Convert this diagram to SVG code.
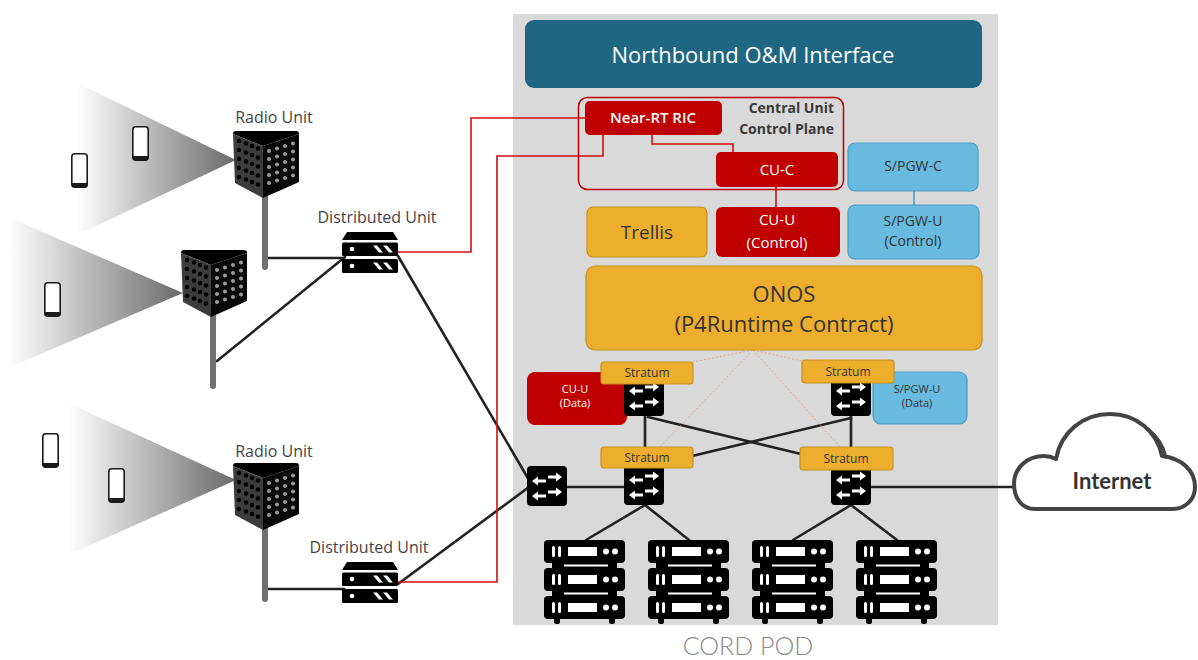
<svg xmlns="http://www.w3.org/2000/svg" xmlns:xlink="http://www.w3.org/1999/xlink" width="1198" height="660" viewBox="0 0 1198 660">
  <style>
    .cap { font-family: "Open Sans", sans-serif; font-size: 16px; fill: #454545; text-anchor: middle; }
    .wt { fill: #ffffff; text-anchor: middle; font-family: "Open Sans", sans-serif; }
    .dk { fill: #333333; text-anchor: middle; font-family: "Open Sans", sans-serif; }
    .red { fill: #c00000; }
    .org { fill: #edae2e; stroke: #c79222; stroke-width: 1.2; }
    .blu { fill: #68badf; stroke: #4b9cc7; stroke-width: 1.2; }
    .link { stroke: #222222; stroke-width: 2.6; fill: none; stroke-linecap: round; }
    .rlink { stroke: #d01010; stroke-width: 1.6; fill: none; }
    .dot { stroke: #e49a78; stroke-width: 1; stroke-dasharray: 2 2; fill: none; opacity: 0.8; }
    .pole { fill: #707070; }
  </style>
  <defs>
    <linearGradient id="beam" x1="0" y1="0" x2="1" y2="0">
      <stop offset="0" stop-color="#ffffff"/>
      <stop offset="1" stop-color="#6a6a6a"/>
    </linearGradient>
    <!-- smartphone -->
    <symbol id="phone" viewBox="0 0 17 35" width="17" height="35" overflow="visible">
      <rect x="0.8" y="0.8" width="15.4" height="33.4" rx="3" fill="#ffffff" stroke="#1a1a1a" stroke-width="1.6"/>
      <path d="M0.8,30 H16.2 V31.2 Q16.2,34.2 13.2,34.2 H3.8 Q0.8,34.2 0.8,31.2 Z" fill="#1a1a1a"/>
    </symbol>
    <!-- radio unit antenna panel -->
    <symbol id="ru" viewBox="0 0 66 67" width="66" height="67" overflow="visible">
      <path d="M0,3 Q0,0 3,0 L63,0 Q66,0 66,3 L30,15 Z" fill="#000"/>
      <path d="M0,3 L30,15 L30,67 L2,52 Z" fill="#3c3c3c"/>
      <path d="M30,15 L66,3 L66,51 L30,67 Z" fill="#080808"/>
      <g fill="#000">
        <circle cx="6" cy="10" r="2.2"/><circle cx="13" cy="12.5" r="2.2"/><circle cx="19" cy="15" r="2.2"/><circle cx="25" cy="17.5" r="2.2"/>
        <circle cx="6" cy="19" r="2.2"/><circle cx="13" cy="21.5" r="2.2"/><circle cx="19" cy="24" r="2.2"/><circle cx="25" cy="26.5" r="2.2"/>
        <circle cx="6" cy="28" r="2.2"/><circle cx="13" cy="30.5" r="2.2"/><circle cx="19" cy="33" r="2.2"/><circle cx="25" cy="35.5" r="2.2"/>
        <circle cx="6" cy="37" r="2.2"/><circle cx="13" cy="39.5" r="2.2"/><circle cx="19" cy="42" r="2.2"/><circle cx="25" cy="44.5" r="2.2"/>
        <circle cx="6" cy="46" r="2.2"/><circle cx="13" cy="48.5" r="2.2"/><circle cx="19" cy="51" r="2.2"/><circle cx="25" cy="53.5" r="2.2"/>
      </g>
      <g fill="#9a9a9a">
        <circle cx="36" cy="20" r="2"/><circle cx="44" cy="17.5" r="2"/><circle cx="52" cy="15" r="2"/><circle cx="60" cy="12.5" r="2"/>
        <circle cx="36" cy="28" r="2"/><circle cx="44" cy="25.5" r="2"/><circle cx="52" cy="23" r="2"/><circle cx="60" cy="20.5" r="2"/>
        <circle cx="36" cy="36" r="2"/><circle cx="44" cy="33.5" r="2"/><circle cx="52" cy="31" r="2"/><circle cx="60" cy="28.5" r="2"/>
        <circle cx="36" cy="44" r="2"/><circle cx="44" cy="41.5" r="2"/><circle cx="52" cy="39" r="2"/><circle cx="60" cy="36.5" r="2"/>
        <circle cx="36" cy="52" r="2"/><circle cx="44" cy="49.5" r="2"/><circle cx="52" cy="47" r="2"/><circle cx="60" cy="44.5" r="2"/>
      </g>
    </symbol>
    <!-- distributed unit appliance -->
    <symbol id="du" viewBox="0 0 56 42" width="56" height="42" overflow="visible">
      <path d="M5,0 H51 L56,8 H0 Z" fill="#000"/>
      <rect x="0" y="10.5" width="56" height="13.5" rx="1.5" fill="#000"/>
      <rect x="0" y="27" width="56" height="14" rx="1.5" fill="#000"/>
      <g fill="#fff">
        <circle cx="10" cy="17" r="2.3"/><circle cx="10" cy="34" r="2.3"/>
        <path d="M31,13.5 h4 l6,7 h-4 Z"/><path d="M41,13.5 h4 l6,7 h-4 Z"/>
        <path d="M31,30.5 h4 l6,7 h-4 Z"/><path d="M41,30.5 h4 l6,7 h-4 Z"/>
      </g>
    </symbol>
    <!-- packet switch -->
    <symbol id="sw" viewBox="0 0 40 40" width="40" height="40" overflow="visible">
      <rect x="0" y="0" width="40" height="40" rx="4" fill="#000"/>
      <g fill="#fff">
        <path d="M5,15 L11,10.5 V13.5 H19 V16.5 H11 V19.5 Z"/>
        <path d="M35,11 L29,6.5 V9.5 H21 V12.5 H29 V15.5 Z"/>
        <path d="M5,30 L11,25.5 V28.5 H19 V31.5 H11 V34.5 Z"/>
        <path d="M35,26 L29,21.5 V24.5 H21 V27.5 H29 V30.5 Z"/>
      </g>
    </symbol>
    <!-- server unit -->
    <g id="unit">
      <rect x="0" y="0" width="81" height="23" rx="4" fill="#000"/>
      <rect x="8" y="6" width="3" height="11" rx="1.5" fill="#fff"/>
      <rect x="14" y="6" width="3" height="11" rx="1.5" fill="#fff"/>
      <rect x="24" y="7" width="29" height="9" fill="#fff"/>
      <circle cx="62" cy="11.5" r="3" fill="#fff"/>
      <circle cx="71" cy="11.5" r="3" fill="#fff"/>
    </g>
    <!-- server rack of three units -->
    <symbol id="rack" viewBox="0 0 81 84" width="81" height="84" overflow="visible">
      <rect x="8" y="22" width="65" height="7" fill="#000"/>
      <rect x="8" y="50" width="65" height="7" fill="#000"/>
      <rect x="20" y="24.5" width="44" height="2" fill="#fff"/>
      <rect x="20" y="52.5" width="44" height="2" fill="#fff"/>
      <use xlink:href="#unit" y="0"/>
      <use xlink:href="#unit" y="28"/>
      <use xlink:href="#unit" y="56"/>
      <rect x="10" y="77" width="6" height="7" rx="2.5" fill="#000"/>
      <rect x="65" y="77" width="6" height="7" rx="2.5" fill="#000"/>
    </symbol>
  </defs>

  <rect x="0" y="0" width="1198" height="660" fill="#ffffff"/>

  <!-- CORD POD enclosure -->
  <g id="cord-pod">
    <rect x="513" y="14" width="485" height="611" fill="#d9d9d9"/>
    <text x="748" y="655" text-anchor="middle" font-family="Lato, 'Open Sans', sans-serif" font-weight="300" font-size="25" fill="#8a8a8a">CORD POD</text>
  </g>

  <!-- radio coverage beams -->
  <g id="beams">
    <polygon points="77,83 236,160 77,235" fill="url(#beam)"/>
    <polygon points="8,217 183,293 8,368" fill="url(#beam)"/>
    <polygon points="68,403 236,480 68,555" fill="url(#beam)"/>
  </g>

  <g id="phones">
    <use xlink:href="#phone" x="71" y="153"/>
    <use xlink:href="#phone" x="132" y="126"/>
    <use xlink:href="#phone" x="44" y="282"/>
    <use xlink:href="#phone" x="42" y="433"/>
    <use xlink:href="#phone" x="108" y="468"/>
  </g>

  <!-- connectors -->
  <g id="connectors">
    <line class="link" x1="265" y1="258" x2="344" y2="258"/>
    <line class="link" x1="217" y1="361" x2="345" y2="257"/>
    <line class="link" x1="398" y1="256" x2="529" y2="480"/>
    <line class="link" x1="398" y1="584" x2="529" y2="487"/>
    <line class="link" x1="265" y1="589" x2="344" y2="589"/>
    <line class="link" x1="567" y1="487" x2="624" y2="487"/>
    <line class="link" x1="871" y1="487" x2="1016" y2="487"/>
    <line class="link" x1="645" y1="416" x2="645" y2="447"/>
    <line class="link" x1="851" y1="416" x2="851" y2="447"/>
    <line class="link" x1="648" y1="417" x2="801" y2="454"/>
    <line class="link" x1="692" y1="456" x2="851" y2="418"/>
    <line class="link" x1="645" y1="505" x2="586" y2="540"/>
    <line class="link" x1="645" y1="505" x2="689" y2="540"/>
    <line class="link" x1="851" y1="505" x2="793" y2="540"/>
    <line class="link" x1="851" y1="505" x2="897" y2="540"/>
    <path class="rlink" d="M398,252 H471 V118 H586"/>
    <path class="rlink" d="M398,582 H497 V156 H603 V135"/>
    <path class="rlink" d="M652,135 V144 H733 V152"/>
    <path class="rlink" d="M776,187 V207"/>
    <path d="M914,191 V205" stroke="#4b9cc7" stroke-width="1.6" fill="none"/>
    <path class="dot" d="M753,350 L693,362"/>
    <path class="dot" d="M753,350 L802,361"/>
    <path class="dot" d="M753,350 L660,447"/>
    <path class="dot" d="M753,350 L840,447"/>
  </g>

  <!-- radio units -->
  <g id="radio-unit-1">
    <rect class="pole" x="262" y="192" width="6" height="78" rx="3"/>
    <use xlink:href="#ru" x="233" y="131"/>
    <text class="cap" x="274" y="123">Radio Unit</text>
  </g>
  <g id="radio-unit-2">
    <rect class="pole" x="210" y="312" width="6" height="77" rx="3"/>
    <use xlink:href="#ru" x="181" y="250"/>
  </g>
  <g id="radio-unit-3">
    <rect class="pole" x="262" y="524" width="6" height="78" rx="3"/>
    <use xlink:href="#ru" x="233" y="463"/>
    <text class="cap" x="274" y="457">Radio Unit</text>
  </g>

  <!-- distributed units -->
  <g id="distributed-unit-1">
    <use xlink:href="#du" x="342" y="232"/>
    <text class="cap" x="377" y="223">Distributed Unit</text>
  </g>
  <g id="distributed-unit-2">
    <use xlink:href="#du" x="342" y="562"/>
    <text class="cap" x="369" y="553">Distributed Unit</text>
  </g>

  <g id="northbound">
    <rect x="525" y="20" width="457" height="68" rx="9" fill="#1e6682"/>
    <text class="wt" x="753" y="63" font-size="22">Northbound O&amp;M Interface</text>
  </g>

  <g id="cu-control-plane">
    <rect x="578.5" y="97.5" width="265" height="92" rx="9" fill="none" stroke="#c00000" stroke-width="1.5"/>
    <text x="834" y="113" text-anchor="end" font-family="'Open Sans', sans-serif" font-weight="700" font-size="14" fill="#3a3a3a">Central Unit</text>
    <text x="834" y="134" text-anchor="end" font-family="'Open Sans', sans-serif" font-weight="700" font-size="14" fill="#3a3a3a">Control Plane</text>
  </g>

  <g id="near-rt-ric">
    <rect class="red" x="585" y="101" width="137" height="34" rx="5"/>
    <text class="wt" x="653" y="123" font-size="15" font-weight="600">Near-RT RIC</text>
  </g>

  <g id="cu-c">
    <rect class="red" x="716" y="152" width="122" height="35" rx="5"/>
    <text class="wt" x="777" y="175" font-size="15">CU-C</text>
  </g>

  <g id="spgw-c">
    <rect class="blu" x="848" y="143" width="130" height="48" rx="7"/>
    <text class="dk" x="913" y="171" font-size="14">S/PGW-C</text>
  </g>

  <g id="trellis">
    <rect class="org" x="587" y="207" width="120" height="50" rx="6"/>
    <text class="dk" x="647" y="239" font-size="19">Trellis</text>
  </g>

  <g id="cu-u-control">
    <rect class="red" x="716" y="207" width="124" height="50" rx="6"/>
    <text class="wt" x="777" y="225" font-size="15">CU-U</text>
    <text class="wt" x="777" y="248" font-size="15">(Control)</text>
  </g>

  <g id="spgw-u-control">
    <rect class="blu" x="848" y="205" width="131" height="54" rx="7"/>
    <text class="dk" x="913" y="226" font-size="14">S/PGW-U</text>
    <text class="dk" x="913" y="246" font-size="14">(Control)</text>
  </g>

  <g id="onos">
    <rect class="org" x="586" y="266" width="396" height="84" rx="9"/>
    <text class="dk" x="784" y="302" font-size="22">ONOS</text>
    <text class="dk" x="784" y="332" font-size="22">(P4Runtime Contract)</text>
  </g>

  <g id="cu-u-data">
    <rect class="red" x="527" y="372" width="100" height="53" rx="8"/>
    <text class="wt" x="575" y="393" font-size="11">CU-U</text>
    <text class="wt" x="575" y="407" font-size="11">(Data)</text>
  </g>

  <g id="spgw-u-data">
    <rect class="blu" x="873" y="372" width="94" height="52" rx="8"/>
    <text class="dk" x="917" y="393" font-size="11">S/PGW-U</text>
    <text class="dk" x="917" y="407" font-size="11">(Data)</text>
  </g>

  <g id="leaf-switch-left">
    <use xlink:href="#sw" x="527" y="466"/>
  </g>
  <g id="spine-left">
    <use xlink:href="#sw" x="624" y="376"/>
    <rect class="org" x="601" y="362" width="92" height="22" rx="3"/>
    <text class="dk" x="647" y="377" font-size="12">Stratum</text>
  </g>
  <g id="spine-right">
    <use xlink:href="#sw" x="831" y="376"/>
    <rect class="org" x="802" y="360" width="92" height="23" rx="3"/>
    <text class="dk" x="848" y="376" font-size="12">Stratum</text>
  </g>
  <g id="leaf-left">
    <use xlink:href="#sw" x="624" y="465"/>
    <rect class="org" x="601" y="447" width="92" height="21" rx="3"/>
    <text class="dk" x="647" y="462" font-size="12">Stratum</text>
  </g>
  <g id="leaf-right">
    <use xlink:href="#sw" x="831" y="465"/>
    <rect class="org" x="800" y="447" width="93" height="23" rx="3"/>
    <text class="dk" x="846" y="463" font-size="12">Stratum</text>
  </g>

  <g id="servers">
    <use xlink:href="#rack" x="544" y="540"/>
    <use xlink:href="#rack" x="648" y="540"/>
    <use xlink:href="#rack" x="752" y="540"/>
    <use xlink:href="#rack" x="856" y="540"/>
  </g>

  <g id="internet">
    <path d="M1035,509 C1021,509 1014,497 1014,484 C1014,468 1027,456 1044,456 C1048,456 1052,457 1056,459 C1061,432 1083,414 1110,414 C1137,414 1157,432 1162,456 C1182,458 1195,471 1195,487 C1195,500 1185,509 1172,509 Z" fill="#ffffff" stroke="#444444" stroke-width="4" stroke-linejoin="round"/>
    <path d="M1148,429 Q1162,440 1166,457" fill="none" stroke="#444444" stroke-width="3" stroke-linecap="round"/>
    <text x="1112" y="489" text-anchor="middle" font-family="Lato, 'Open Sans', sans-serif" font-weight="700" font-size="22" fill="#333333">Internet</text>
  </g>
</svg>
